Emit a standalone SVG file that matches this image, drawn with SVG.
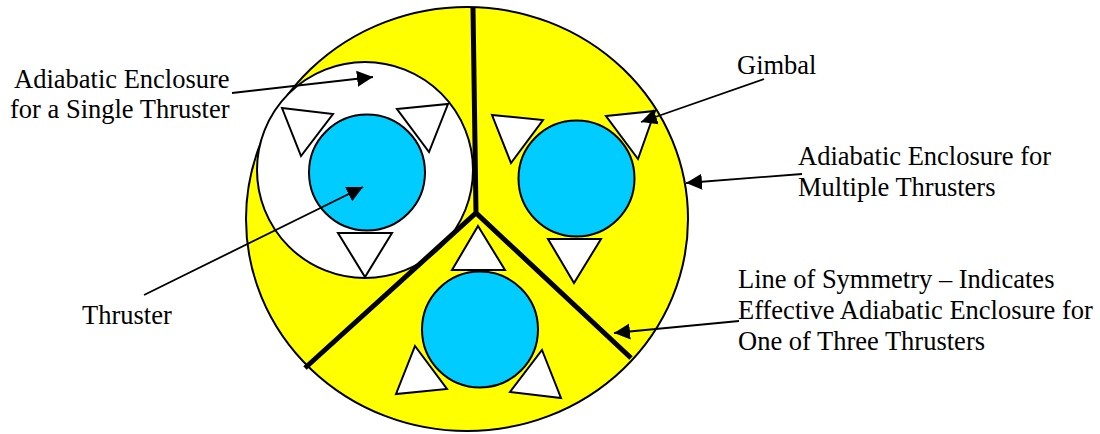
<svg xmlns="http://www.w3.org/2000/svg" width="1100" height="434" viewBox="0 0 1100 434">
<style>
.tri{fill:#fff;stroke:#000;stroke-width:2;stroke-linejoin:miter}
.thr{fill:#0cf;stroke:#000;stroke-width:2}
.sym{stroke:#000;stroke-width:5;fill:none}
.lead{stroke:#000;stroke-width:1.8;fill:none;marker-end:url(#a)}
text{font-family:"Liberation Serif","Times New Roman",serif;font-size:26.5px;fill:#000}
</style>
<defs><marker id="a" markerUnits="userSpaceOnUse" markerWidth="17" markerHeight="17" refX="16" refY="8.500" orient="auto"><path d="M0 0.500L16 8.500L0 16.500z" fill="#000"/></marker></defs>
<rect width="1100" height="434" fill="#fff"/>
<g id="outer"><ellipse cx="467" cy="219" rx="221" ry="212" fill="#ff0" stroke="#000" stroke-width="2"/></g>
<g id="single"><circle cx="365" cy="170" r="108" fill="#fff" stroke="#000" stroke-width="2"/></g>
<g id="thruster1"><circle class="thr" cx="367" cy="172.500" r="58"/><polygon class="tri" points="282,108 333,114 301,156"/><polygon class="tri" points="397,109 448,104 429,152"/><polygon class="tri" points="338,233 392,233 365,277"/></g>
<g id="thruster2"><circle class="thr" cx="576.500" cy="178.500" r="58"/><polygon class="tri" points="492,115 543,120 511,163"/><polygon class="tri" points="606,116 655,111 638,159"/><polygon class="tri" points="548,239 601,239 574,283"/></g>
<g id="thruster3"><circle class="thr" cx="480" cy="329.500" r="58"/><polygon class="tri" points="478,226 505,270 452,270"/><polygon class="tri" points="415,346 447,389 396,394"/><polygon class="tri" points="542,350 561,398 510,392"/></g>
<g id="connectors">
<path class="sym" d="M473 8L476 213M305 368L476 213L631 358"/>
<path class="lead" d="M232 93L373 77"/>
<path class="lead" d="M144 295L363 187"/>
<path class="lead" d="M764 79L641 122"/>
<path class="lead" d="M802 174L686 183"/>
<path class="lead" d="M739 321L614 333"/>
</g>
<g id="labels">
<text x="14" y="88">Adiabatic Enclosure</text>
<text x="10" y="118">for a Single Thruster</text>
<text x="82" y="324">Thruster</text>
<text x="737" y="74">Gimbal</text>
<text x="798" y="165">Adiabatic Enclosure for</text>
<text x="798" y="196">Multiple Thrusters</text>
<text x="738" y="288">Line of Symmetry – Indicates</text>
<text x="738" y="319">Effective Adiabatic Enclosure for</text>
<text x="738" y="350">One of Three Thrusters</text>
</g>
</svg>
